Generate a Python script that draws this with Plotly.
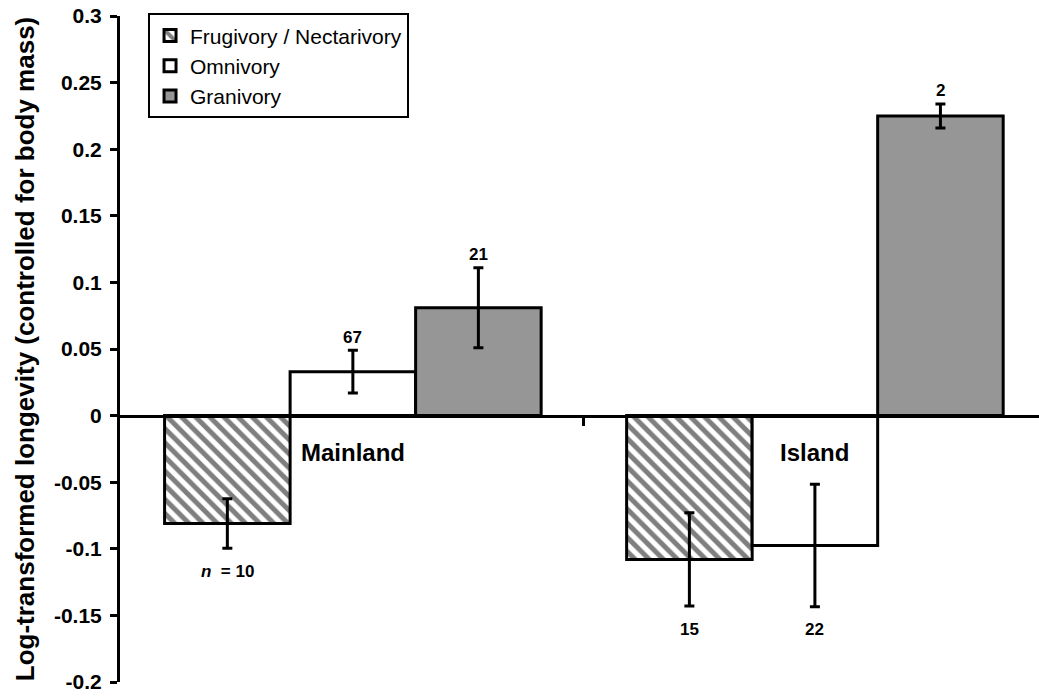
import plotly.graph_objects as go

# Longevity residuals by diet and habitat
regions = ["Mainland", "Island"]
diets = ["Frugivory / Nectarivory", "Omnivory", "Granivory"]

frugivory = [-0.081, -0.108]
frugivory_err = [0.0185, 0.035]
omnivory = [0.033, -0.0975]
omnivory_err = [0.016, 0.046]
granivory = [0.081, 0.225]
granivory_err = [0.030, 0.009]

frugivory_n = ["<i>n</i>  = 10", "15"]
omnivory_n = ["67", "22"]
granivory_n = ["21", "2"]

y_ticks = [-0.2, -0.15, -0.1, -0.05, 0, 0.05, 0.1, 0.15, 0.2, 0.25, 0.3]
y_tick_text = ["-0.2", "-0.15", "-0.1", "-0.05", "0", "0.05", "0.1", "0.15", "0.2", "0.25", "0.3"]

FONT = "Liberation Sans, Arial, sans-serif"
BARGAP = 0.185

x_pos = list(range(len(regions)))

series = [
    (diets[0], frugivory, frugivory_err, frugivory_n,
     dict(color="white", pattern=dict(shape="\\", size=10, solidity=0.5,
                                      fgcolor="black", bgcolor="white", fillmode="overlay"))),
    (diets[1], omnivory, omnivory_err, omnivory_n, dict(color="white")),
    (diets[2], granivory, granivory_err, granivory_n, dict(color="#969696")),
]

fig = go.Figure()
for name, vals, errs, _, marker in series:
    marker = dict(marker, line=dict(color="black", width=3))
    fig.add_trace(go.Bar(
        x=x_pos, y=vals, name=name, marker=marker,
        error_y=dict(type="data", array=errs, thickness=3, width=5, color="black"),
    ))

# sample-size labels above / below each error bar
bar_w = (1 - BARGAP) / len(series)
annotations = []
for k, (name, vals, errs, labels, _) in enumerate(series):
    off = (k - (len(series) - 1) / 2) * bar_w
    for i, (v, e, lab) in enumerate(zip(vals, errs, labels)):
        if v >= 0:
            y, shift = v + e, 13
        else:
            y, shift = v - e, -23
        annotations.append(dict(
            x=x_pos[i] + off, y=y, text=lab, showarrow=False, yshift=shift,
            xanchor="center", yanchor="middle",
            font=dict(family=FONT, size=17, color="black", weight="bold"),
        ))

for i, r in enumerate(regions):
    annotations.append(dict(
        x=x_pos[i], y=-0.0277, text=r, showarrow=False,
        xanchor="center", yanchor="middle",
        font=dict(family=FONT, size=24, color="black", weight="bold"),
    ))

fig.update_layout(
    width=1039, height=696,
    margin=dict(l=120, r=0, t=16, b=14),
    paper_bgcolor="white", plot_bgcolor="white",
    barmode="group", bargap=BARGAP, bargroupgap=0,
    showlegend=True,
    legend=dict(
        x=0.0305, y=1.004, xanchor="left", yanchor="top",
        bordercolor="black", borderwidth=2, bgcolor="white",
        font=dict(family=FONT, size=21, color="black"),
        tracegroupgap=0,
    ),
    annotations=annotations,
    xaxis=dict(
        range=[-0.504, 1.485], anchor="free", position=0.4,
        showline=True, linewidth=3, linecolor="black",
        tickmode="array", tickvals=[0.5], ticktext=[""],
        ticks="outside", ticklen=8, tickwidth=3, tickcolor="black",
        showgrid=False, zeroline=False, showticklabels=False,
    ),
    yaxis=dict(
        range=[-0.2, 0.3], tickmode="array",
        tickvals=y_ticks, ticktext=y_tick_text,
        showline=True, linewidth=3, linecolor="black",
        ticks="outside", ticklen=7, tickwidth=3, tickcolor="black",
        ticklabelstandoff=4, ticklabeloverflow="allow",
        showgrid=False, zeroline=False,
        tickfont=dict(family=FONT, size=21, color="black", weight="bold"),
        title=dict(text="Log-transformed longevity (controlled for body mass)",
                   font=dict(family=FONT, size=26, color="black", weight="bold"),
                   standoff=12),
        automargin=False,
    ),
)

fig.write_html("out.html")
